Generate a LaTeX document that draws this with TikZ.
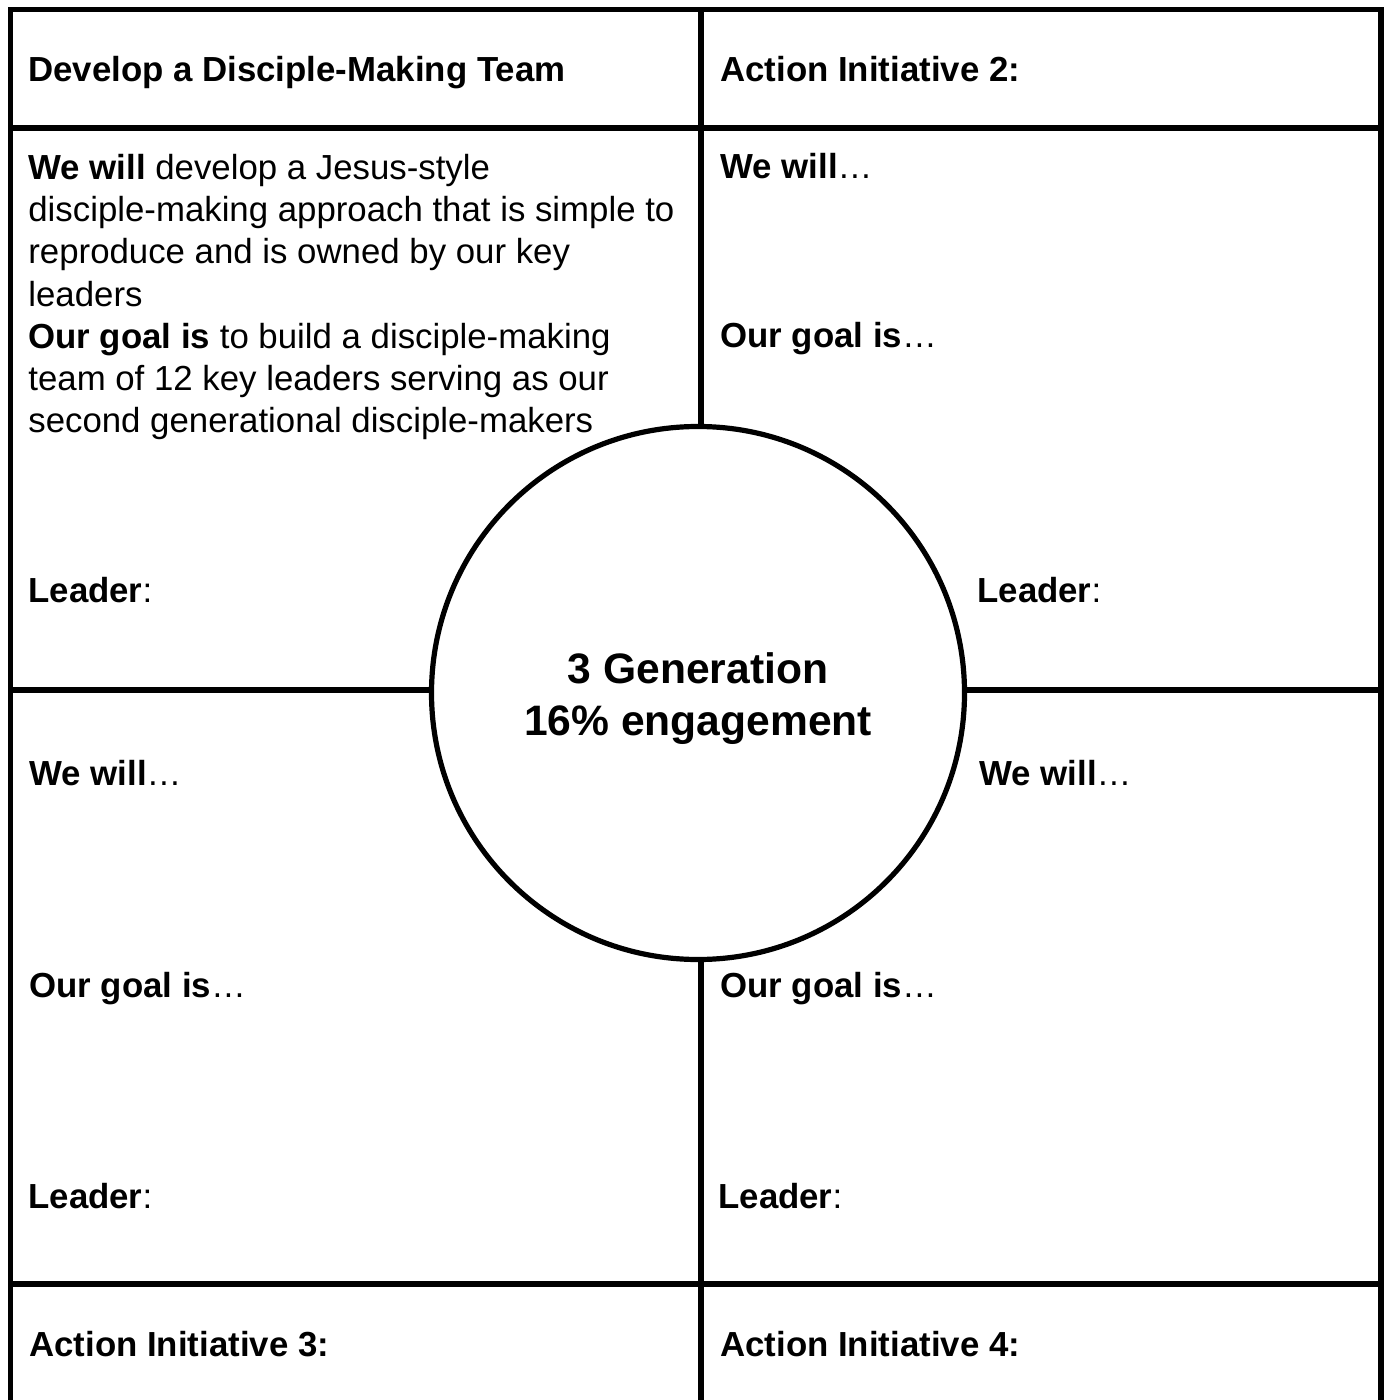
\documentclass[tikz,border=0pt]{standalone}
\usepackage{fontspec}
\setmainfont{Liberation Sans}
\usepackage{tikz}

\tikzset{
  rule/.style={line width=2.75pt},
  cell/.style={anchor=base west, inner sep=0pt, font=\fontsize{17.4pt}{21.15pt}\selectfont},
  hubtext/.style={anchor=base, inner sep=0pt, align=center, font=\fontsize{21.3pt}{26pt}\selectfont\bfseries}
}

\begin{document}
\begin{tikzpicture}[x=0.5pt,y=-0.5pt]
  \useasboundingbox (0,0) rectangle (1383,1400);
  %Shape: Circle [id:hub]
  \node (hub) [circle, draw, line width=2.6pt, fill=white, minimum size=266.5pt, inner sep=0pt] at (698,693) {};
  % corner points of the frame
  \coordinate (tl) at (10.5,9.5);
  \coordinate (tr) at (1381,9.5);
  \coordinate (bl) at (10.5,1412);
  \coordinate (br) at (1381,1412);
  \coordinate (topmid) at (701,9.5);
  \coordinate (botmid) at (701,1412);
  \coordinate (lmid) at (10.5,690);
  \coordinate (rmid) at (1381,690);
  %Straight Lines [frame]
  \draw [rule, line join=miter] (bl) -- (tl) -- (tr) -- (br);
  %Straight Lines [rows]
  \draw [rule] (10.5,128) -- (1381,128);
  \draw [rule] (10.5,1284) -- (1381,1284);
  %Straight Lines [to the circle]
  \draw [rule] (topmid) -- (topmid |- hub.north);
  \draw [rule] (botmid) -- (botmid |- hub.south);
  \draw [rule] (lmid) -- (lmid -| hub.west);
  \draw [rule] (rmid) -- (rmid -| hub.east);

  % Text Node (base is the last line)
  \draw (698,735) node (gen) [hubtext] {3 Generation\\16\% engagement};
  % Text Node
  \draw (28,82) node (devhead) [cell] {\textbf{Develop a Disciple-Making Team}};
  % Text Node
  \draw (720,82) node (aitwo) [cell] {\textbf{Action Initiative 2:}};
  % Text Node (base is the last line)
  \draw (28,433) node (willone) [cell, align=left] {\textbf{We will} develop a Jesus-style\\disciple-making approach that is simple to\\reproduce and is owned by our key\\leaders\\\textbf{Our goal is} to build a disciple-making\\team of 12 key leaders serving as our\\second generational disciple-makers};
  % Text Node
  \draw (720,179) node (willtwo) [cell] {\textbf{We will}\dots};
  % Text Node
  \draw (720,348) node (goaltwo) [cell] {\textbf{Our goal is}\dots};
  % Text Node
  \draw (28,602) node (leadone) [cell] {\textbf{Leader}:};
  % Text Node
  \draw (977,602) node (leadtwo) [cell] {\textbf{Leader}:};
  % Text Node
  \draw (29,785) node (willthree) [cell] {\textbf{We will}\dots};
  % Text Node
  \draw (979,785) node (willfour) [cell] {\textbf{We will}\dots};
  % Text Node
  \draw (29,997) node (goalthree) [cell] {\textbf{Our goal is}\dots};
  % Text Node
  \draw (720,997) node (goalfour) [cell] {\textbf{Our goal is}\dots};
  % Text Node
  \draw (28,1208) node (leadthree) [cell] {\textbf{Leader}:};
  % Text Node
  \draw (718,1208) node (leadfour) [cell] {\textbf{Leader}:};
  % Text Node
  \draw (29,1356) node (aithree) [cell] {\textbf{Action Initiative 3:}};
  % Text Node
  \draw (720,1356) node (aifour) [cell] {\textbf{Action Initiative 4:}};
\end{tikzpicture}
\end{document}
